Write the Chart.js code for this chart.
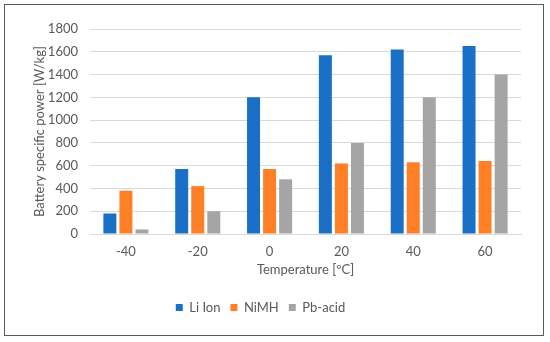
<!DOCTYPE html>
<html>
<head>
<meta charset="utf-8">
<script src="https://cdn.jsdelivr.net/npm/chart.js@4"></script>
<style>
  html, body { margin: 0; padding: 0; background: #ffffff; }
  #wrap { position: relative; width: 550px; height: 342px; }
  #frame {
    position: absolute; left: 4px; top: 4px; width: 538px; height: 330px;
    border: 1.5px solid #5a5a5a;
  }
  #chart { position: absolute; left: 0; top: 0; }
</style>
</head>
<body>
<div id="wrap">
  <div id="frame"></div>
  <canvas id="chart" width="550" height="342"></canvas>
</div>
<script>
// ─── Data ─────────────────────────────────────────────────────────
const temperatures = ["-40", "-20", "0", "20", "40", "60"];
const liIon = [180, 570, 1200, 1570, 1620, 1650];
const niMH = [380, 420, 570, 620, 630, 640];
const pbAcid = [40, 200, 480, 800, 1200, 1400];

const FONT = "Lato, 'Open Sans', sans-serif";
const TEXT = "#595959";
const GRID = "#d9d9d9";

const ds = (label, data, color) => ({
  label,
  data,
  backgroundColor: color,
  borderWidth: 0,
  barPercentage: 0.81,
  categoryPercentage: 0.67,
});

new Chart(document.getElementById("chart"), {
  type: "bar",
  data: {
    labels: temperatures,
    datasets: [
      ds("Li Ion", liIon, "#1a70c6"),
      ds("NiMH", niMH, "#ff7f27"),
      ds("Pb-acid", pbAcid, "#a5a5a5"),
    ],
  },
  options: {
    responsive: false,
    animation: false,
    layout: { padding: { left: 0, right: 29, top: 29, bottom: 18 } },
    plugins: {
      tooltip: { enabled: false },
      legend: {
        position: "bottom",
        labels: {
          color: TEXT,
          boxWidth: 7,
          boxHeight: 7,
          padding: 10,
          font: { family: FONT, size: 13 },
        },
      },
    },
    scales: {
      x: {
        grid: { display: false, drawTicks: false },
        border: { color: GRID, width: 1 },
        ticks: { color: TEXT, padding: 10, font: { family: FONT, size: 13 } },
        title: {
          display: true,
          text: "Temperature [ºC]",
          color: TEXT,
          font: { family: FONT, size: 13 },
          padding: { top: 0, bottom: 13 },
        },
        afterFit: (scale) => { scale.height = 57; },
      },
      y: {
        min: 0,
        max: 1800,
        ticks: {
          stepSize: 200,
          color: TEXT,
          padding: 12,
          font: { family: FONT, size: 13 },
          callback: (v) => String(v),
        },
        grid: { color: GRID, lineWidth: 1, drawTicks: false },
        border: { display: false },
        title: {
          display: true,
          text: "Battery specific power [W/kg]",
          color: TEXT,
          font: { family: FONT, size: 13 },
          padding: { top: 32, bottom: 0 },
        },
        afterFit: (scale) => { scale.width = 90; },
      },
    },
  },
});
</script>
</body>
</html>
